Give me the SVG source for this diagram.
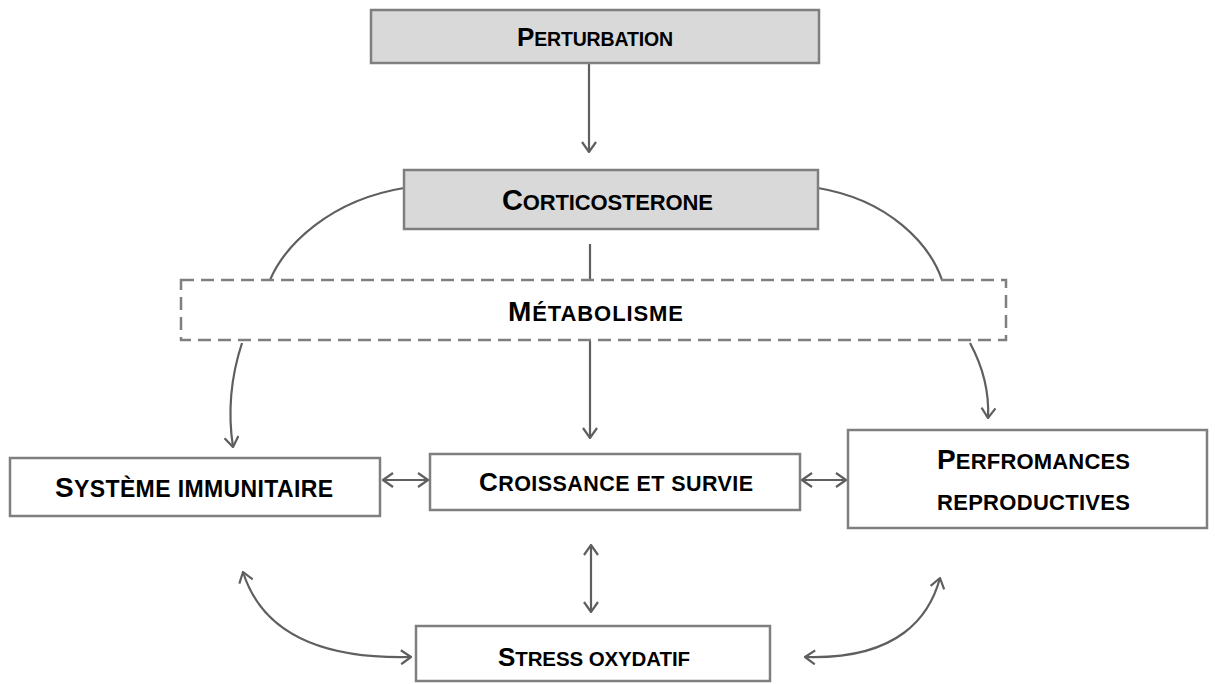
<svg xmlns="http://www.w3.org/2000/svg" width="1215" height="684" viewBox="0 0 1215 684">
<style>
.box{fill:#ffffff;stroke:#7f7f7f;stroke-width:2.5}
.gray{fill:#d9d9d9}
.dash{fill:none;stroke:#7f7f7f;stroke-width:2.5;stroke-dasharray:13 7}
.lbl{font-family:"Liberation Sans",Arial,sans-serif;font-weight:bold;fill:#000000}
.big{font-size:28px}
.sm{font-size:22px}
.con{fill:none;stroke:#5f5f5f;stroke-width:2.2}
</style>
<defs>
<marker id="ah" viewBox="0 0 12 16" refX="11" refY="8" markerWidth="12" markerHeight="16" markerUnits="userSpaceOnUse" orient="auto-start-reverse">
<path d="M1,1 L11,8 L1,15" fill="none" stroke="#5f5f5f" stroke-width="2.2"/>
</marker>
</defs>
<rect width="1215" height="684" fill="#ffffff"/>
<g id="connectors">
<path class="con" d="M589,64 L589,152" marker-end="url(#ah)"/>
<path class="con" d="M590,244 L590,280"/>
<path class="con" d="M404,188 C330,200 285,245 270,280"/>
<path class="con" d="M818,188 C890,200 930,245 942,280"/>
<path class="con" d="M590,341 L590,438" marker-end="url(#ah)"/>
<path class="con" d="M242,343 Q225,395 233,447" marker-end="url(#ah)"/>
<path class="con" d="M970,343 Q990,380 988,418" marker-end="url(#ah)"/>
<path class="con" d="M383,480 L428,480" marker-start="url(#ah)" marker-end="url(#ah)"/>
<path class="con" d="M802,480 L846,480" marker-start="url(#ah)" marker-end="url(#ah)"/>
<path class="con" d="M591,545 L591,612" marker-start="url(#ah)" marker-end="url(#ah)"/>
<path class="con" d="M243,572 C255,610 290,660 411,657" marker-start="url(#ah)" marker-end="url(#ah)"/>
<path class="con" d="M940,578 C930,615 900,660 805,657" marker-start="url(#ah)" marker-end="url(#ah)"/>
</g>
<g id="perturbation">
<rect class="box gray" x="371" y="10" width="448" height="53"/>
<text class="lbl" x="517" y="46" textLength="156"><tspan font-size="26">P</tspan><tspan font-size="19.5">ERTURBATION</tspan></text>
</g>
<g id="corticosterone">
<rect class="box gray" x="404" y="170" width="414" height="59"/>
<text class="lbl" x="502" y="210" textLength="211"><tspan font-size="29">C</tspan><tspan font-size="22">ORTICOSTERONE</tspan></text>
</g>
<g id="metabolisme">
<rect class="dash" x="181" y="280" width="825" height="60"/>
<text class="lbl" x="508" y="321" textLength="175"><tspan class="big">M</tspan><tspan class="sm">ÉTABOLISME</tspan></text>
</g>
<g id="systeme">
<rect class="box" x="10" y="458" width="370" height="58"/>
<text class="lbl" x="55" y="497" textLength="278"><tspan class="big">S</tspan><tspan font-size="23">YSTÈME IMMUNITAIRE</tspan></text>
</g>
<g id="croissance">
<rect class="box" x="430" y="454" width="370" height="56"/>
<text class="lbl" x="479" y="491" textLength="274"><tspan font-size="26">C</tspan><tspan font-size="21.5">ROISSANCE ET SURVIE</tspan></text>
</g>
<g id="performances">
<rect class="box" x="848" y="430" width="359" height="98"/>
<text class="lbl" x="937" y="469" textLength="193"><tspan class="big">P</tspan><tspan class="sm">ERFROMANCES</tspan></text>
<text class="lbl sm" x="937" y="510" textLength="193">REPRODUCTIVES</text>
</g>
<g id="stress">
<rect class="box" x="416" y="626" width="354" height="55"/>
<text class="lbl" x="498" y="666" textLength="192"><tspan font-size="26">S</tspan><tspan font-size="20.5">TRESS OXYDATIF</tspan></text>
</g>
</svg>
